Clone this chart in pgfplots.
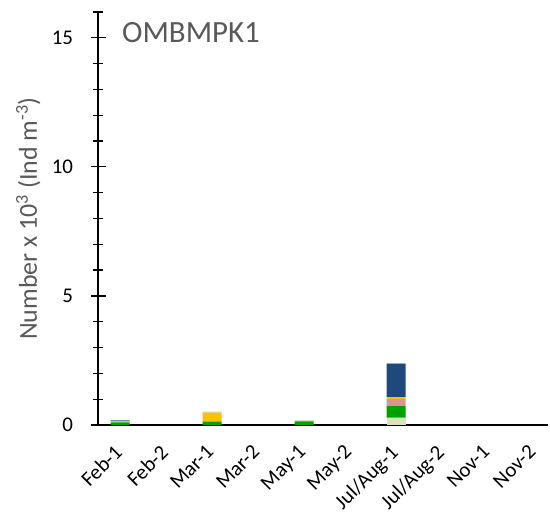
\documentclass[border=0pt]{standalone}
\usepackage{pgfplots}
\pgfplotsset{compat=1.18}
\usepackage{fontspec}
\setmainfont{Carlito}
\definecolor{cpale}{RGB}{216,228,188}
\definecolor{cgreen}{RGB}{0,160,0}
\definecolor{cpink}{RGB}{218,150,148}
\definecolor{cyel}{RGB}{255,192,0}
\definecolor{cblue}{RGB}{31,73,125}
\definecolor{clight}{RGB}{190,210,225}
\definecolor{tgray}{RGB}{89,89,89}
\begin{document}
\begin{tikzpicture}
\begin{axis}[
  scale only axis, width=450bp, height=413bp,
  xmin=-0.48, xmax=9.3, ymin=0, ymax=16,
  ybar stacked, bar width=19bp,
  axis x line=bottom, axis y line=left,
  axis line style={line width=1.4pt,-},
  xtick={0,...,9}, xticklabels={Feb-1,Feb-2,Mar-1,Mar-2,May-1,May-2,Jul/Aug-1,Jul/Aug-2,Nov-1,Nov-2},
  x tick label style={rotate=45, anchor=north east, font=\fontsize{21}{23}\selectfont, inner sep=0pt, xshift=-5bp, yshift=5bp},
  xticklabel shift=11bp,
  xtick style={draw=none},
  ytick={0,5,10,15}, minor ytick={1,2,3,4,6,7,8,9,11,12,13,14,16},
  y tick label style={font=\fontsize{21}{23}\selectfont, xshift=-14bp},
  /pgf/number format/assume math mode=true,
  major tick length=15bp, minor tick length=10bp,
  ytick style={line width=1.3pt, black},
  tick align=center,
  ylabel={Number x 10\textsuperscript{3} (Ind m\textsuperscript{-3})},
  ylabel style={font=\fontsize{26}{28}\selectfont, color=tgray, at={(axis description cs:-0.155,0.5)}, anchor=center},
  every axis plot/.append style={draw=none},
  clip=false,
]
\addplot[fill=cpale] coordinates {(0,0) (2,0) (4,0) (6,0.28)};
\addplot[fill=cgreen] coordinates {(0,0.1) (2,0.12) (4,0.14) (6,0.45)};
\addplot[fill=cpink] coordinates {(0,0) (2,0.03) (4,0) (6,0.27)};
\addplot[fill=cyel] coordinates {(0,0.04) (2,0.33) (4,0.02) (6,0.08)};
\addplot[fill=cblue] coordinates {(0,0.04) (2,0) (4,0) (6,1.30)};
\addplot[fill=clight] coordinates {(0,0) (2,0.04) (4,0.02) (6,0.02)};
\node[anchor=west, inner sep=0pt, font=\fontsize{31}{33}\selectfont, color=tgray] at (axis cs:0.04,15.2) {OMBMPK1};
\coordinate (bl) at (rel axis cs:-0.2178,-0.2518);
\coordinate (tr) at (rel axis cs:1.0044,1.029);
\end{axis}
\pgfresetboundingbox
\path (bl) rectangle (tr);
\end{tikzpicture}
\end{document}
